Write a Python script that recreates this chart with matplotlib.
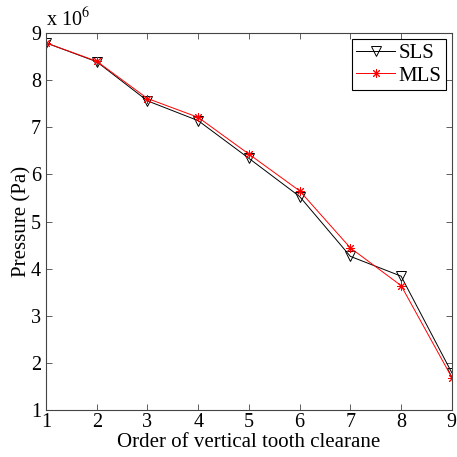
import numpy as np
import matplotlib
matplotlib.use("Agg")
import matplotlib.pyplot as plt
from matplotlib.ticker import FuncFormatter

# data (pressure in units of 1e6 Pa)
order = [1, 2, 3, 4, 5, 6, 7, 8, 9]
sls = [8.79, 8.39, 7.56, 7.14, 6.34, 5.53, 4.26, 3.84, 1.79]
mls = [8.79, 8.40, 7.61, 7.21, 6.43, 5.65, 4.44, 3.64, 1.69]
scale = 1e6

plt.rcParams['font.family'] = ['Liberation Serif', 'DejaVu Serif']
plt.rcParams['mathtext.fontset'] = 'stix'

fig = plt.figure(figsize=(4.57, 4.57), dpi=100)
ax = fig.add_axes([0.1007, 0.1028, 0.888, 0.825])

ax.plot(order, np.array(sls) * scale, color='black', lw=0.7, marker='v',
        markerfacecolor='none', markeredgecolor='black', markersize=6.5,
        markeredgewidth=0.7, label='SLS')
ax.plot(order, np.array(mls) * scale, color='red', lw=0.7, marker=(8, 2, 0),
        markeredgecolor='red', markersize=6.5, markeredgewidth=0.7, label='MLS')

ax.set_xlim(1, 9)
ax.set_ylim(1e6, 9e6)
ax.set_xticks(range(1, 10))
ax.set_yticks(np.arange(1, 10) * scale)
ax.yaxis.set_major_formatter(FuncFormatter(lambda v, p: '%d' % round(v / scale)))
ax.tick_params(direction='in', top=True, right=True, labelsize=14.5, length=4,
               width=0.6, color='#444444')
ax.tick_params(axis='x', pad=2.5)
ax.tick_params(axis='y', pad=3.5)
for s in ax.spines.values():
    s.set_linewidth(0.8)
    s.set_color('#444444')

ax.text(0.0, 1.005, r'x 10$^6$', transform=ax.transAxes, fontsize=14.5,
        ha='left', va='bottom')

ax.set_xlabel('Order of vertical tooth clearane', fontsize=15, labelpad=0.5)
ax.set_ylabel('Pressure (Pa)', fontsize=15, labelpad=0)

leg = ax.legend(loc='upper right', fontsize=15, fancybox=False, framealpha=1,
                edgecolor='black', borderaxespad=0.3, handlelength=1.9,
                handletextpad=0.15, borderpad=0.2, labelspacing=0.15)
leg.get_frame().set_linewidth(0.8)

fig.savefig('out.png', dpi=100)
